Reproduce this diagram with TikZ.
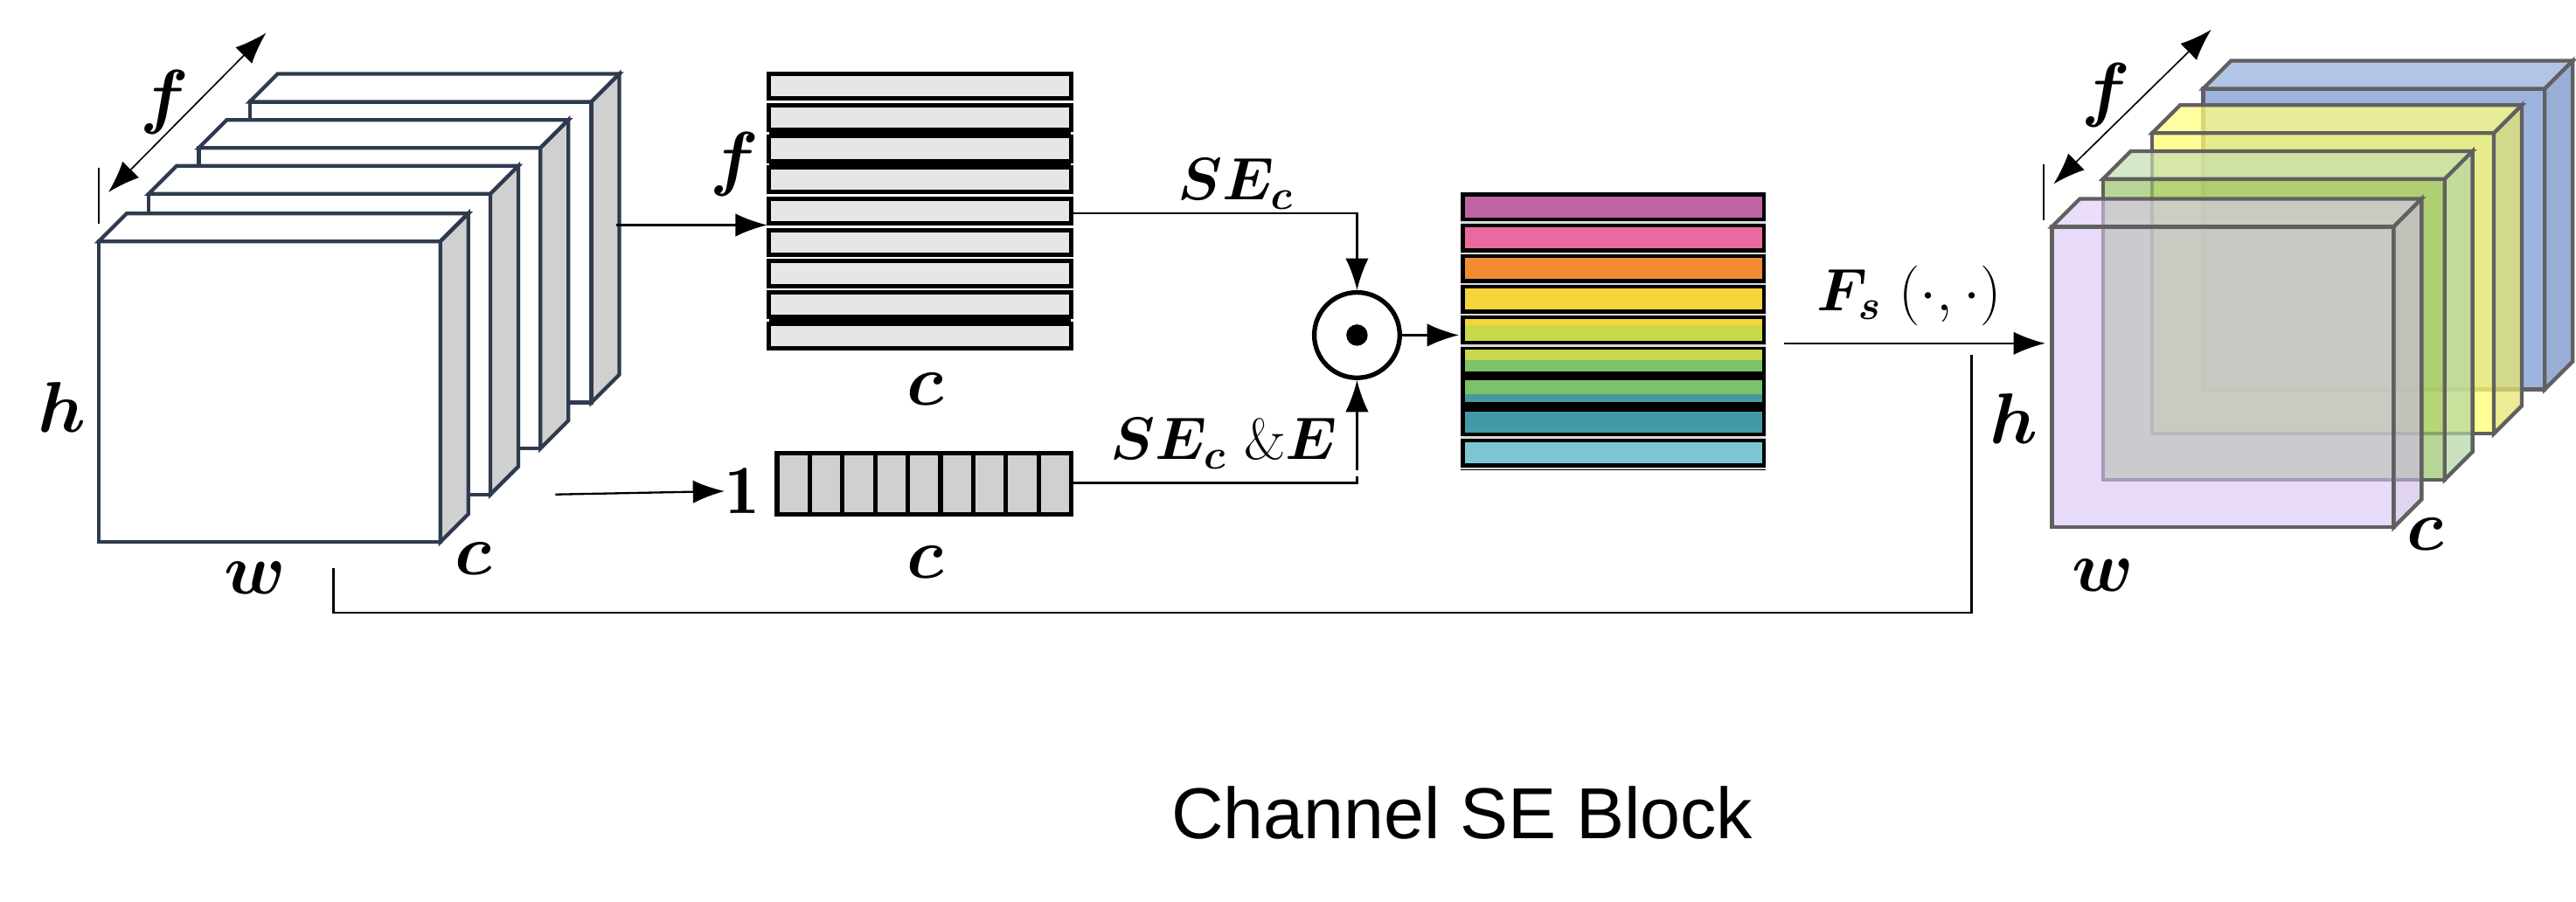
\documentclass[tikz,border=0pt]{standalone}
\usepackage{fontspec}
\usepackage{amsmath,bm}
\usetikzlibrary{arrows.meta}
\newfontfamily\capfont{Liberation Sans}
\definecolor{edgeL}{HTML}{2E3B4E}
\definecolor{sideL}{HTML}{D0D0D0}
\definecolor{stripeG}{HTML}{E6E6E6}
\newcommand{\myslab}[8]{% x y front top side edge opacity dummy
  \begin{scope}[draw=#6,line width=1.3pt,fill opacity=#7,line join=miter]
  \filldraw[fill=#3] (#1,#2) rectangle ++(208,183);
  \filldraw[fill=#4] (#1,#2) -- ++(17,-17) -- ++(208,0) -- ++(-17,17) -- cycle;
  \filldraw[fill=#5] (#1+208,#2) -- ++(17,-17) -- ++(0,183) -- ++(-17,17) -- cycle;
  \end{scope}}
\tikzset{lbl/.style={font=\fontsize{24}{28}\selectfont},
  conn/.style={line width=0.7pt,-{Latex[length=11pt,width=8pt]}},
  plain/.style={line width=0.7pt},
  dimarrow/.style={line width=0.5pt,{Latex[length=11pt,width=8pt]}-{Latex[length=11pt,width=8pt]}}}
\begin{document}
\begin{tikzpicture}[x=0.02cm,y=-0.02cm]
\useasboundingbox (0,0) rectangle (1568,548.6);
% left stack
\myslab{152}{62}{white}{white}{sideL}{edgeL}{1}{}
\myslab{121}{90}{white}{white}{sideL}{edgeL}{1}{}
\myslab{90.5}{118}{white}{white}{sideL}{edgeL}{1}{}
\myslab{60}{147}{white}{white}{sideL}{edgeL}{1}{}
\coordinate (fa1) at (66,117); \coordinate (fa2) at (162,20);
\draw[dimarrow] (fa1) -- (fa2);
\draw[line width=0.5pt] (60,102) -- (60,136);
\node[lbl] (lf) at (100,62) {$\bm{f}$};
\node[lbl] (lh) at (38,248) {$\bm{h}$};
\node[lbl] (lw) at (155,352) {$\bm{w}$};
\node[lbl] (lc) at (288,340) {$\bm{c}$};
% stripe block
\foreach \i in {1,2,7} {
  \fill[black] (468,{45+\i*19+14}) rectangle (652,{45+\i*19+20});
}
\foreach \i in {0,...,8} {
  \filldraw[fill=stripeG,draw=black,line width=1.5pt] (468,{45+\i*19}) rectangle (652,{60+\i*19});
}
\coordinate (stripesIn) at (467,137);
\coordinate (stripesOut) at (653,130);
\node[lbl] (sf) at (447,100) {$\bm{f}$};
\node[lbl] (sc) at (563,237) {$\bm{c}$};
% cell row
\foreach \i in {0,...,8} {
  \filldraw[fill=sideL,draw=black,line width=1.6pt] ({473+\i*19.9},276) rectangle ({473+(\i+1)*19.9},313);
}
\coordinate (cellsOut) at (652,294);
\node[lbl,inner sep=0] (one) at (452,299) {$\mathbf{1}$};
\node[lbl] (cc) at (563,342) {$\bm{c}$};
\coordinate (stackOut) at (375,137);
\coordinate (stackOut2) at (338,301);
\draw[conn] (stackOut) -- (stripesIn);
\draw[conn] (stackOut2) -- (one.west);
% product circle
\node[circle,draw=black,line width=1.6pt,minimum size=52*0.02cm,inner sep=0] (prod) at (826,204) {};
\fill (prod.center) circle (6.5);
\draw[conn] (stripesOut) -| (prod.north);
\draw[conn] (cellsOut) -| (prod.south);
\node[font=\fontsize{20}{24}\selectfont] (se1) at (752,112) {$\bm{SE_c}$};
\node[font=\fontsize{20}{24}\selectfont] (se2) at (745,270) {$\bm{SE_c}\ \bm{\&E}$};
% color block
\coordinate (colIn) at (888,204);
\draw[conn] (prod.east) -- (colIn);
\definecolor{c1}{HTML}{C063A5}\definecolor{c2}{HTML}{E96A9F}
\definecolor{c3}{HTML}{F28C33}\definecolor{c4}{HTML}{F5D43C}
\definecolor{c5}{HTML}{C8D84A}\definecolor{c6}{HTML}{7CC268}
\definecolor{c7}{HTML}{43999F}\definecolor{c8}{HTML}{4499A8}
\definecolor{c9}{HTML}{7CC6D4}\definecolor{cy}{HTML}{F5D43C}
\fill[black] (889,117) rectangle (1075,286);
\foreach \col/\i in {c1/0,c2/1,c3/2,c4/3,c5/4,c6/5,c7/6,c8/7,c9/8} {
  \fill[\col] (891.5,{119.5+\i*18.7}) rectangle (1072.5,{132.5+\i*18.7});
  \fill[white!70!gray] (889,{134.8+\i*18.7}) rectangle (1075,{136.2+\i*18.7});
}
\fill[cy] (891.5,194.3) rectangle (1072.5,198);
\fill[c5] (891.5,213) rectangle (1072.5,219);
\fill[c6] (891.5,219) rectangle (1072.5,226);
\fill[c6] (891.5,231.6) rectangle (1072.5,240);
\fill[black] (889,227) rectangle (1075,231);
\fill[black] (889,245.5) rectangle (1075,249.5);
\fill[white] (800,286) rectangle (1080,290);
% F_s arrow
\coordinate (fsA) at (1086,209); \coordinate (fsB) at (1245,209);
\draw[conn] (fsA) -- (fsB);
\node[font=\fontsize{20}{24}\selectfont] (fs) at (1162,180) {$\bm{F_s}\ (\cdot,\cdot)$};
% skip connection
\coordinate (sk1) at (203,346); \coordinate (sk2) at (1200,216);
\draw[plain] (sk1) |- (700,373) -| (sk2);
% right stack
\definecolor{bF}{HTML}{9DB4DE}\definecolor{bT}{HTML}{B2C5E6}\definecolor{bS}{HTML}{98AED6}
\definecolor{yF}{HTML}{FFFF70}\definecolor{yT}{HTML}{FFFF80}\definecolor{yS}{HTML}{E6E670}
\definecolor{gF}{HTML}{98C468}\definecolor{gT}{HTML}{C6DEB0}\definecolor{gS}{HTML}{B4D4A2}
\definecolor{pF}{HTML}{D9C3F7}\definecolor{pT}{HTML}{DCC8F8}\definecolor{pS}{HTML}{CDB8EA}
\definecolor{edgeR}{HTML}{606060}
\myslab{1341}{54}{bF}{bT}{bS}{edgeR}{1}{}
\myslab{1310}{81}{yF}{yT}{yS}{edgeR}{0.75}{}
\myslab{1280}{109}{gF}{gT}{gS}{edgeR}{0.7}{}
\myslab{1249}{138}{pF}{pT}{pS}{edgeR}{0.6}{}
\coordinate (fb1) at (1250,112); \coordinate (fb2) at (1346,18);
\draw[dimarrow] (fb1) -- (fb2);
\draw[line width=0.5pt] (1244,100) -- (1244,134);
\node[lbl] (rf) at (1282,58) {$\bm{f}$};
\node[lbl] (rh) at (1226,255) {$\bm{h}$};
\node[lbl] (rw) at (1280,350) {$\bm{w}$};
\node[lbl] (rc) at (1476,325) {$\bm{c}$};
\node[font=\capfont\fontsize{25}{30}\selectfont] (cap) at (890,495) {Channel SE Block};
\end{tikzpicture}
\end{document}
